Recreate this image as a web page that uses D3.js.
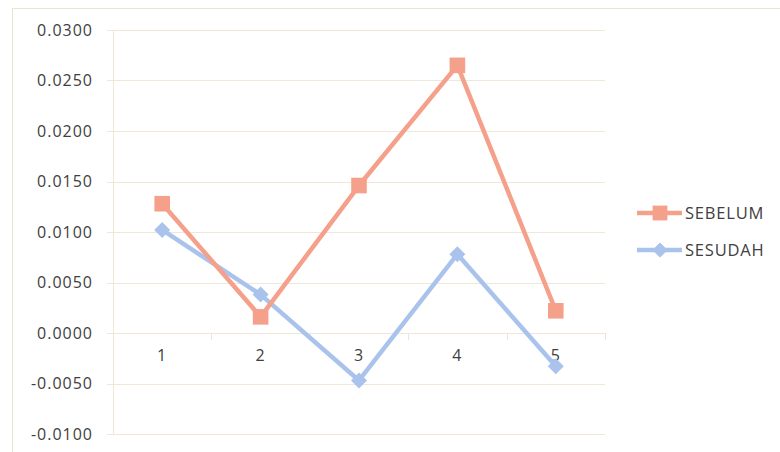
<!DOCTYPE html>
<html lang="en">
<head>
    <meta charset="UTF-8">
    <title>SEBELUM vs SESUDAH</title>
    <style>
        body { margin: 0; padding: 0; overflow: hidden; background: #fff; }
        svg { display: block; }
        .tick-label { font-family: "Open Sans", sans-serif; font-size: 16px; fill: #404040; letter-spacing: 1px; }
        .legend text { font-family: "Open Sans", sans-serif; font-size: 16.5px; fill: #404040; letter-spacing: 0.8px; }
    </style>
</head>
<body>
    <script src="https://d3js.org/d3.v7.min.js"></script>
    <script>
        const categories = ["1", "2", "3", "4", "5"];
        const sebelum = [0.0128, 0.0016, 0.0146, 0.0265, 0.0022];
        const sesudah = [0.0102, 0.0038, -0.0047, 0.0078, -0.0033];
        const yTicks = [-0.01, -0.005, 0, 0.005, 0.01, 0.015, 0.02, 0.025, 0.03];

        const width = 780, height = 452;
        const plot = { left: 113, right: 605, top: 30, bottom: 434 };

        const svg = d3.select("body").append("svg")
            .attr("width", width)
            .attr("height", height);

        // chart frame
        svg.append("rect")
            .attr("x", 12.5).attr("y", 8.5)
            .attr("width", 800).attr("height", 460)
            .attr("fill", "#fff")
            .attr("stroke", "#ece4d2");

        const x = d3.scaleBand()
            .domain(categories)
            .range([plot.left, plot.right]);

        const y = d3.scaleLinear()
            .domain([-0.01, 0.03])
            .range([plot.bottom, plot.top]);

        // plain hyphen, not the unicode minus d3 uses
        const fmt = d => (d < 0 ? "-" : "") + Math.abs(d).toFixed(4);

        // gridlines
        svg.append("g")
            .selectAll("line")
            .data(yTicks)
            .enter().append("line")
            .attr("x1", plot.left - 6)
            .attr("x2", plot.right)
            .attr("y1", d => Math.round(y(d)) + 0.5)
            .attr("y2", d => Math.round(y(d)) + 0.5)
            .attr("stroke", "#f0e7d8")
            .attr("stroke-width", 1);

        // vertical axis line
        svg.append("line")
            .attr("x1", plot.left + 0.5).attr("x2", plot.left + 0.5)
            .attr("y1", plot.top).attr("y2", plot.bottom)
            .attr("stroke", "#f0e7d8");

        // y labels
        svg.append("g")
            .selectAll("text")
            .data(yTicks)
            .enter().append("text")
            .attr("class", "tick-label")
            .attr("x", 93)
            .attr("y", d => y(d))
            .attr("dy", "0.36em")
            .attr("text-anchor", "end")
            .text(fmt);

        // category tick marks on the zero line
        const bounds = categories.map(c => x(c)).concat([plot.right]);
        svg.append("g")
            .selectAll("line")
            .data(bounds)
            .enter().append("line")
            .attr("x1", d => Math.round(d) + 0.5)
            .attr("x2", d => Math.round(d) + 0.5)
            .attr("y1", y(0))
            .attr("y2", y(0) + 7)
            .attr("stroke", "#ede4d6");

        // category labels
        svg.append("g")
            .selectAll("text")
            .data(categories)
            .enter().append("text")
            .attr("class", "tick-label")
            .attr("x", d => x(d) + x.bandwidth() / 2)
            .attr("y", y(0) + 28)
            .attr("text-anchor", "middle")
            .text(d => d);

        const line = d3.line()
            .x((d, i) => x(categories[i]) + x.bandwidth() / 2)
            .y(d => y(d));

        const square = r => `M${-r},${-r}H${r}V${r}H${-r}Z`;
        const diamond = r => `M0,${-r}L${r},0L0,${r}L${-r},0Z`;

        const series = [
            { name: "SEBELUM", values: sebelum, color: "#f5a08b", marker: square, r: 7.8 },
            { name: "SESUDAH", values: sesudah, color: "#a9c3ec", marker: diamond, r: 8 }
        ];

        // draw SESUDAH under SEBELUM
        [series[1], series[0]].forEach(s => {
            const g = svg.append("g");
            g.append("path")
                .datum(s.values)
                .attr("d", line)
                .attr("fill", "none")
                .attr("stroke", s.color)
                .attr("stroke-width", 4.5)
                .attr("stroke-linejoin", "round");
            g.selectAll("path.marker")
                .data(s.values)
                .enter().append("path")
                .attr("class", "marker")
                .attr("d", s.marker(s.r))
                .attr("transform", (d, i) => `translate(${x(categories[i]) + x.bandwidth() / 2},${y(d)})`)
                .attr("fill", s.color);
        });

        // legend
        const legend = svg.append("g").attr("class", "legend");
        series.forEach((s, i) => {
            const ly = 213 + i * 37;
            legend.append("line")
                .attr("x1", 637).attr("x2", 682)
                .attr("y1", ly).attr("y2", ly)
                .attr("stroke", s.color)
                .attr("stroke-width", 4.5);
            legend.append("path")
                .attr("d", s.marker(s.r * 0.95))
                .attr("transform", `translate(660,${ly})`)
                .attr("fill", s.color);
            legend.append("text")
                .attr("x", 685)
                .attr("y", ly)
                .attr("dy", "0.36em")
                .text(s.name);
        });
    </script>
</body>
</html>
